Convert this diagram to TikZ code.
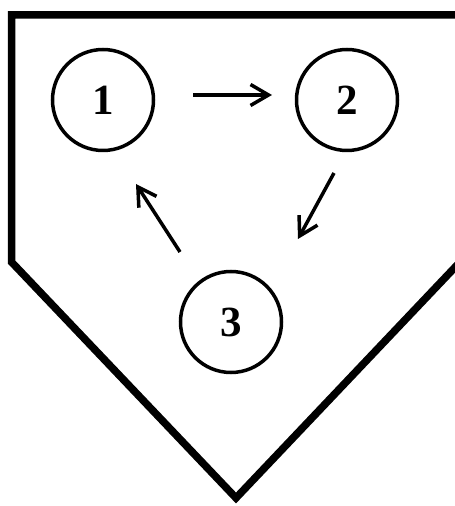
\documentclass[tikz,border=0pt]{standalone}
\usepackage{fontspec}
\setmainfont{Liberation Serif}
\usetikzlibrary{arrows.meta, positioning}

\begin{document}
\begin{tikzpicture}[x=1pt, y=1pt,
        station/.style={draw, circle, line width=3.5pt, minimum size=101pt, inner sep=0pt, font=\fontsize{43}{50}\selectfont\bfseries},
        arrow/.style={-{Straight Barb[length=18pt, width=21pt]}, line width=3.5pt},
        plate/.style={line width=7.5pt, miter limit=10}]

        \useasboundingbox (0,0) rectangle (455,506);

        % Plate
        \draw [plate] (460,244) -- (460,491) -- (11.5,491) -- (11.5,244) -- (236,8) -- cycle;

        % Nodes
        \node [station] (one) at (103,406) {1};
        \node [station] (two) at (347,406) {2};
        \node [station] (three) at (231,184) {3};

        % Arrows
        \draw [arrow] ([shift={(90,5)}]one.center) -- ([shift={(-75,5)}]two.center);
        \draw [arrow] ([shift={(-13,-73)}]two.center) -- ([shift={(67,83)}]three.center);
        \draw [arrow] ([shift={(-51,70)}]three.center) -- ([shift={(33,-84)}]one.center);
\end{tikzpicture}
\end{document}
